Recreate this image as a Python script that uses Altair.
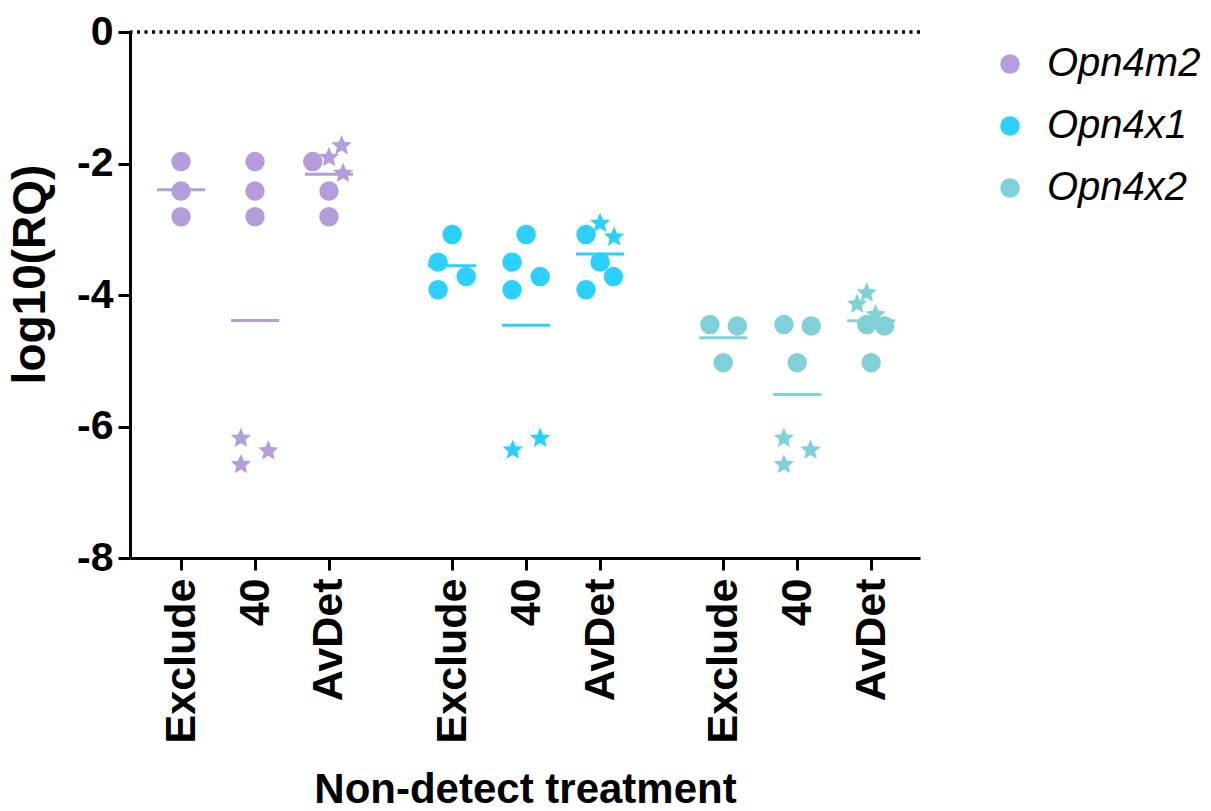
import math
import altair as alt
import pandas as pd

GENES = ["Opn4m2", "Opn4x1", "Opn4x2"]
TREATMENTS = ["Exclude", "40", "AvDet"]
COLORS = ["#B39DDB", "#2BD0FF", "#80D0D8"]
Y_TICKS = [0, -2, -4, -6, -8]

# detected samples (circles), log10(RQ)
OPN4M2_DET = [-1.97, -2.42, -2.81]
OPN4X1_DET = [-3.08, -3.50, -3.72, -3.92]
OPN4X2_DET = [-4.45, -4.47, -5.03]

# non-detect substitutes (stars)
OPN4M2_ND_40 = [-6.18, -6.37, -6.58]
OPN4X1_ND_40 = [-6.36, -6.18]
OPN4X2_ND_40 = [-6.18, -6.36, -6.58]
OPN4M2_ND_AVDET = [-1.91, -1.73, -2.15]
OPN4X1_ND_AVDET = [-2.91, -3.12]
OPN4X2_ND_AVDET = [-3.97, -4.14, -4.30]

DET = {"Opn4m2": OPN4M2_DET, "Opn4x1": OPN4X1_DET, "Opn4x2": OPN4X2_DET}
ND = {
    ("Opn4m2", "40"): OPN4M2_ND_40, ("Opn4x1", "40"): OPN4X1_ND_40, ("Opn4x2", "40"): OPN4X2_ND_40,
    ("Opn4m2", "AvDet"): OPN4M2_ND_AVDET, ("Opn4x1", "AvDet"): OPN4X1_ND_AVDET,
    ("Opn4x2", "AvDet"): OPN4X2_ND_AVDET,
}

# layout: horizontal scatter offsets (in category steps)
GROUP_GAP = 3.665
JIT_DET = {
    ("Opn4m2", "Exclude"): [0, 0, 0], ("Opn4m2", "40"): [0, 0, 0], ("Opn4m2", "AvDet"): [-0.22, 0, 0],
    ("Opn4x1", "Exclude"): [0, -0.19, 0.19, -0.19], ("Opn4x1", "40"): [0, -0.19, 0.19, -0.19],
    ("Opn4x1", "AvDet"): [-0.19, 0, 0.18, -0.19],
    ("Opn4x2", "Exclude"): [-0.18, 0.19, 0], ("Opn4x2", "40"): [-0.18, 0.19, 0],
    ("Opn4x2", "AvDet"): [-0.06, 0.18, 0],
}
JIT_ND = {
    ("Opn4m2", "40"): [-0.19, 0.18, -0.19], ("Opn4m2", "AvDet"): [0, 0.17, 0.19],
    ("Opn4x1", "40"): [-0.18, 0.19], ("Opn4x1", "AvDet"): [0, 0.19],
    ("Opn4x2", "40"): [-0.18, 0.18, -0.18], ("Opn4x2", "AvDet"): [-0.06, -0.19, 0.06],
}

det_rows, nd_rows = [], []
for g, gene in enumerate(GENES):
    for t, tr in enumerate(TREATMENTS):
        center = g * GROUP_GAP + t
        for v, j in zip(DET[gene], JIT_DET[(gene, tr)]):
            det_rows.append({"gene": gene, "treatment": tr, "value": v, "center": center, "xpos": center + j})
        if (gene, tr) in ND:
            for v, j in zip(ND[(gene, tr)], JIT_ND[(gene, tr)]):
                nd_rows.append({"gene": gene, "treatment": tr, "value": v, "center": center, "xpos": center + j})
det_df = pd.DataFrame(det_rows)
nd_df = pd.DataFrame(nd_rows)
all_df = pd.concat([det_df, nd_df], ignore_index=True)

centers = [g * GROUP_GAP + t for g in range(3) for t in range(3)]
x_label_expr = "".join(
    f"abs(datum.value - {c}) < 0.01 ? '{TREATMENTS[i % 3]}' : " for i, c in enumerate(centers)
) + "''"

# five-pointed star symbol path (unit radius)
pts = []
for k in range(10):
    r = 1.0 if k % 2 == 0 else 0.45
    a = math.radians(-90 + 36 * k)
    pts.append(f"{r * math.cos(a):.4f},{r * math.sin(a):.4f}")
STAR_PATH = "M" + " L".join(pts) + " Z"

FONT = "Liberation Sans"
xscale = alt.Scale(domain=[-0.69, 9.99], nice=False, zero=False)
yscale = alt.Scale(domain=[-8, 0], nice=False, zero=False)
cscale = alt.Scale(domain=GENES, range=COLORS)
legend = alt.Legend(
    title=None, orient="none", legendX=860, legendY=12,
    labelFont=FONT, labelFontSize=40, labelFontStyle="italic", labelColor="black",
    symbolType="circle", symbolSize=380, symbolStrokeWidth=0, symbolOpacity=1,
    rowPadding=22, labelOffset=17,
)
color = alt.Color("gene:N", scale=cscale, legend=legend)

xaxis = alt.Axis(
    values=centers, labelExpr=x_label_expr, labelAngle=-90, labelFontSize=43,
    labelPadding=8, title="Non-detect treatment", titleFontSize=42,
    titleBaseline="alphabetic", titleY=244,
)
yaxis = alt.Axis(
    values=Y_TICKS, labelExpr="'' + datum.value", labelFontSize=41, labelPadding=5,
    title="log10(RQ)", titleFontSize=46, titleBaseline="alphabetic", titleX=-86, titleY=242,
)

zero_line = alt.Chart(pd.DataFrame({"value": [0]})).mark_rule(
    color="black", strokeWidth=3.5, strokeDash=[3, 4.5]
).encode(y=alt.Y("value:Q", scale=yscale, axis=yaxis))

means = alt.Chart(all_df).transform_aggregate(
    mean_value="mean(value)", groupby=["gene", "center"]
).transform_calculate(
    x1="datum.center - 0.325", x2="datum.center + 0.325"
).mark_rule(strokeWidth=3).encode(
    x=alt.X("x1:Q", scale=xscale, axis=xaxis),
    x2="x2:Q",
    y=alt.Y("mean_value:Q", scale=yscale, axis=yaxis),
    color=color,
)

stars = alt.Chart(nd_df).mark_point(shape=STAR_PATH, filled=True, size=460, opacity=1).encode(
    x=alt.X("xpos:Q", scale=xscale, axis=xaxis),
    y=alt.Y("value:Q", scale=yscale, axis=yaxis),
    color=color,
)

circles = alt.Chart(det_df).mark_circle(size=380, opacity=1).encode(
    x=alt.X("xpos:Q", scale=xscale, axis=xaxis),
    y=alt.Y("value:Q", scale=yscale, axis=yaxis),
    color=color,
)

chart = alt.layer(zero_line, means, stars, circles).properties(
    width=790, height=526,
    autosize=alt.AutoSizeParams(type="none"),
    padding={"left": 130, "top": 32, "right": 291, "bottom": 253},
).configure_view(stroke=None).configure_axis(
    grid=False, domainColor="black", domainWidth=3, tickColor="black", tickWidth=3,
    tickSize=12, labelColor="black", labelFont=FONT, labelFontWeight="bold",
    titleColor="black", titleFont=FONT, titleFontWeight="bold",
)

chart.save("out.html", embed_options={"renderer": "svg", "actions": False})
